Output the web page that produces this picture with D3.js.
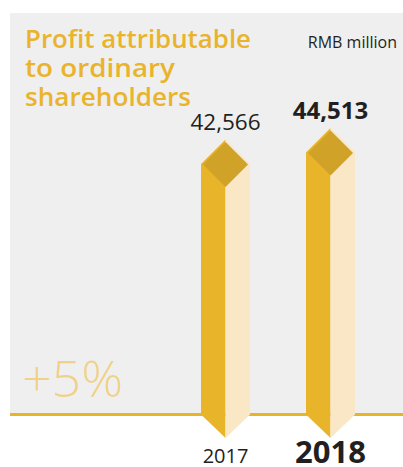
<!DOCTYPE html>
<html lang="en">
<head>
    <meta charset="UTF-8">
    <title>Profit attributable to ordinary shareholders</title>
    <style>
        body {
            margin: 0;
            background-color: #ffffff;
        }
        svg {
            display: block;
        }
        text {
            font-family: "Open Sans", "Noto Sans", sans-serif;
        }
    </style>
    <script src="https://d3js.org/d3.v7.min.js"></script>
</head>
<body>
    <svg width="403" height="467"></svg>

    <script>
        // дані графіка
        const years = ["2017", "2018"];
        const profits = [42566, 44513];
        const valueLabels = ["42,566", "44,513"];
        const titleLines = ["Profit attributable", "to ordinary", "shareholders"];
        const unitLabel = "RMB million";
        const changeLabel = "+5%";

        const svg = d3.select("svg");

        const x = d3.scalePoint().domain(years).range([225.5, 330.5]);
        const y = d3.scaleLinear().domain([0, 44513]).range([414, 152.5]);
        const half = 24.5;
        const baseY = 414.5;

        // сірий фон
        svg.append("rect")
            .attr("x", 10).attr("y", 13)
            .attr("width", 393).attr("height", baseY - 13)
            .attr("fill", "#efefef");

        // лінія основи
        svg.append("line")
            .attr("x1", 10).attr("x2", 403)
            .attr("y1", baseY).attr("y2", baseY)
            .attr("stroke", "#e8b42a")
            .attr("stroke-width", 3);

        // заголовок
        svg.append("g").selectAll("text")
            .data(titleLines)
            .enter().append("text")
            .attr("x", 25)
            .attr("y", (d, i) => 48 + i * 29)
            .attr("font-size", 26)
            .attr("font-weight", 600)
            .attr("fill", "#e9b42c")
            .attr("textLength", (d, i) => [226, 150, 166][i])
            .attr("lengthAdjust", "spacingAndGlyphs")
            .text(d => d);

        svg.append("text")
            .attr("x", 397).attr("y", 48)
            .attr("text-anchor", "end")
            .attr("font-size", 16)
            .attr("fill", "#231f20")
            .text(unitLabel);

        svg.append("text")
            .attr("x", 22).attr("y", 397)
            .attr("font-size", 50)
            .attr("font-weight", 300)
            .attr("fill", "#f0d18a")
            .attr("textLength", 101)
            .attr("lengthAdjust", "spacingAndGlyphs")
            .text(changeLabel);

        const bars = years.map((yr, i) => ({ year: yr, value: profits[i], label: valueLabels[i], last: i === years.length - 1 }));

        const g = svg.append("g").selectAll("g")
            .data(bars)
            .enter().append("g");

        // ліва грань
        g.append("path")
            .attr("d", d => {
                const cx = x(d.year), top = y(d.value);
                return `M${cx - half},${top} L${cx},${top - half} L${cx},438 L${cx - half},${baseY} Z`;
            })
            .attr("fill", "#e8b42a");

        // права грань
        g.append("path")
            .attr("d", d => {
                const cx = x(d.year), top = y(d.value);
                return `M${cx},${top - half} L${cx + half},${top} L${cx + half},${baseY} L${cx},438 Z`;
            })
            .attr("fill", "#f9e7c5");

        // верхній ромб
        g.append("path")
            .attr("d", d => {
                const cx = x(d.year), top = y(d.value) + 0.5, r = 22.5;
                return `M${cx},${top - r} L${cx + r},${top} L${cx},${top + r} L${cx - r},${top} Z`;
            })
            .attr("fill", "#d0a228");

        // значення
        g.append("text")
            .attr("x", d => x(d.year))
            .attr("y", d => y(d.value) - 34)
            .attr("text-anchor", "middle")
            .attr("font-size", d => d.last ? 24 : 22.5)
            .attr("font-weight", d => d.last ? 700 : 400)
            .attr("fill", "#231f20")
            .text(d => d.label);

        // роки
        g.append("text")
            .attr("x", d => x(d.year))
            .attr("y", 463)
            .attr("text-anchor", "middle")
            .attr("font-size", d => d.last ? 31 : 20)
            .attr("font-weight", d => d.last ? 700 : 400)
            .attr("fill", "#231f20")
            .text(d => d.year);
    </script>
</body>
</html>
